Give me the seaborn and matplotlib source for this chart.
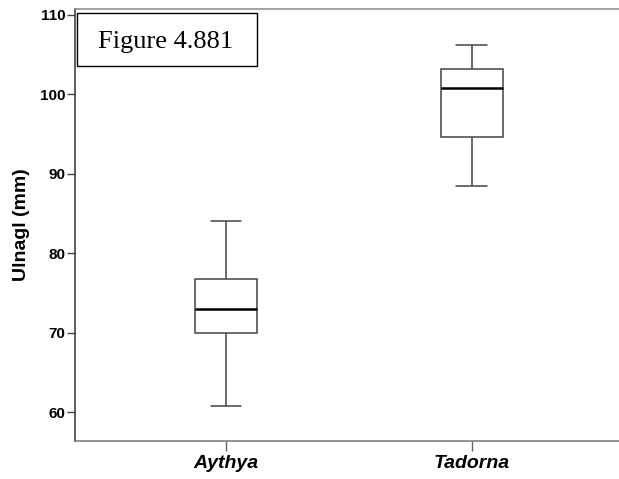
import pandas as pd
import matplotlib.pyplot as plt
import seaborn as sns
from matplotlib import font_manager
from matplotlib.patches import Rectangle

# five-number summaries (min, Q1, median, Q3, max)
genera = ['Aythya', 'Tadorna']
aythya_vals = [60.8, 70.0, 73.0, 76.7, 84.0]
tadorna_vals = [88.4, 94.6, 100.85, 103.15, 106.25]

df = pd.DataFrame({
    'Genus': [genera[0]] * len(aythya_vals) + [genera[1]] * len(tadorna_vals),
    'Ulna': aythya_vals + tadorna_vals,
})

sns.set_style('white')
plt.rcParams['font.family'] = ['Liberation Sans', 'DejaVu Sans']
plt.rcParams['text.color'] = 'black'
plt.rcParams['xtick.color'] = 'black'
plt.rcParams['ytick.color'] = 'black'
plt.rcParams['axes.labelcolor'] = 'black'


# pick the regular-width Liberation Sans files (avoid the Narrow cut)
def lib_font(bold, italic, size):
    for f in font_manager.fontManager.ttflist:
        fn = f.fname.lower()
        if 'liberationsans' in fn.replace('-', '').replace('_', '') and 'narrow' not in fn:
            is_bold = 'bold' in fn
            is_it = 'italic' in fn
            if is_bold == bold and is_it == italic:
                return font_manager.FontProperties(fname=f.fname, size=size)
    return font_manager.FontProperties(family='DejaVu Sans', size=size,
                                       weight='bold' if bold else 'normal',
                                       style='italic' if italic else 'normal')


fig = plt.figure(figsize=(6.19, 4.79), dpi=100)
ax = fig.add_axes([75 / 619, 1 - 441 / 479, 1 - 75 / 619, 432 / 479])

sns.boxplot(data=df, x='Genus', y='Ulna', order=genera, whis=(0, 100),
            width=0.252, color='white', linecolor='#444444', linewidth=1.1,
            medianprops={'color': 'black', 'linewidth': 1.8},
            showfliers=False, ax=ax)

ax.set_xlim(-0.614, 1.598)
ax.set_ylim(56.35, 110.75)
ax.set_yticks([60, 70, 80, 90, 100, 110])
ax.set_xlabel('')
ax.set_ylabel('Ulnagl (mm)', fontproperties=lib_font(True, False, 14), labelpad=7)

for lab in ax.get_yticklabels():
    lab.set_fontproperties(lib_font(True, False, 11))
for lab in ax.get_xticklabels():
    lab.set_fontproperties(lib_font(True, True, 14))

ax.tick_params(axis='y', direction='out', length=6, width=1, color='#444444',
               left=True, pad=1)
ax.tick_params(axis='x', direction='out', length=7, width=1, color='#666666',
               bottom=True, pad=3)

ax.spines['right'].set_visible(False)
ax.spines['left'].set_color('#333333')
ax.spines['bottom'].set_color('#777777')
ax.spines['top'].set_color('#888888')
for s in ['left', 'bottom', 'top']:
    ax.spines[s].set_linewidth(1.1)

# figure label box
W, H = 619, 479
fig.patches.append(Rectangle((77 / W, 1 - 66 / H), 180 / W, 53 / H,
                             transform=fig.transFigure, facecolor='white',
                             edgecolor='black', linewidth=1, zorder=5))
fig.text(166 / W, 1 - 48 / H, 'Figure 4.881', fontsize=19,
         family='Liberation Serif', ha='center', va='baseline', zorder=6)

fig.savefig('out.png', dpi=100)
